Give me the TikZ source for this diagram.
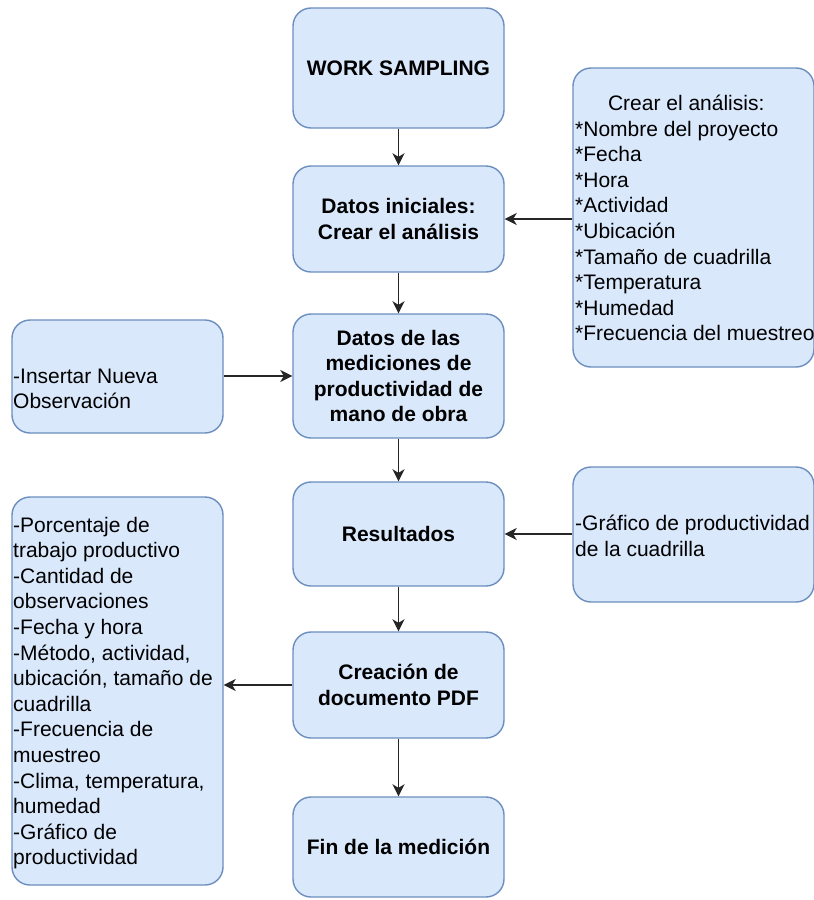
\documentclass[tikz,border=0pt]{standalone}
\usepackage{fontspec}
\setmainfont{Liberation Sans}
\usetikzlibrary{arrows.meta}
\definecolor{boxfill}{HTML}{DAE8FC}
\definecolor{boxline}{HTML}{6C8EBF}
\begin{document}
\begin{tikzpicture}[x=1pt,y=1pt,
  box/.style={draw=boxline, fill=boxfill, line width=1.4pt, rounded corners=18pt, inner sep=0pt},
  btxt/.style={font=\fontsize{21}{25.6}\selectfont\bfseries, align=center},
  txt/.style={font=\fontsize{21}{25.6}\selectfont, align=left, inner sep=0pt},
  arr/.style={-{Stealth[length=12pt,width=12pt,inset=3.5pt]}, line width=1.8pt, black!85}]
\useasboundingbox (0,0) rectangle (814,-900);
% centre column
\node[box, btxt, minimum width=211pt, minimum height=120pt] (ws) at (398.5,-68) {WORK SAMPLING};
\node[box, btxt, minimum width=211pt, minimum height=106pt] (di) at (398.5,-219) {Datos iniciales:\\Crear el análisis};
\node[box, btxt, minimum width=211pt, minimum height=124pt] (dm) at (398.5,-376) {Datos de las\\mediciones de\\productividad de\\mano de obra};
\node[box, btxt, minimum width=211pt, minimum height=104pt] (res) at (398.5,-534) {Resultados};
\node[box, btxt, minimum width=211pt, minimum height=106pt] (pdf) at (398.5,-685) {Creación de\\documento PDF};
\node[box, btxt, minimum width=211pt, minimum height=100pt] (fin) at (398.5,-847) {Fin de la medición};
% side boxes
\node[box, minimum width=241pt, minimum height=299pt] (r1) at (693.5,-217.5) {};
\node[txt, anchor=west] (r1t) at (575,-218) {\makebox[222pt][c]{Crear el análisis:}\\*Nombre del proyecto\\*Fecha\\*Hora\\*Actividad\\*Ubicación\\*Tamaño de cuadrilla\\*Temperatura\\*Humedad\\*Frecuencia del muestreo};
\node[box, minimum width=211pt, minimum height=113pt] (l1) at (117.5,-376.5) {};
\node[txt, anchor=west] (l1t) at (13,-389) {-Insertar Nueva\\Observación};
\node[box, minimum width=241pt, minimum height=135pt] (r2) at (693.5,-534.5) {};
\node[txt, anchor=west] (r2t) at (575,-536) {-Gráfico de productividad\\de la cuadrilla};
\node[box, minimum width=211pt, minimum height=388pt] (l2) at (117.5,-691) {};
\node[txt, anchor=west] (l2t) at (13,-693) {-Porcentaje de\\trabajo productivo\\-Cantidad de\\observaciones\\-Fecha y hora\\-Método, actividad,\\ubicación, tamaño de\\cuadrilla\\-Frecuencia de\\muestreo\\-Clima, temperatura,\\humedad\\-Gráfico de\\productividad};
% connectors
\draw[arr] (ws.south) -- (di.north);
\draw[arr] (di.east -| r1.west) -- (di.east);
\draw[arr] (di.south) -- (dm.north);
\draw[arr] (dm.west -| l1.east) -- (dm.west);
\draw[arr] (dm.south) -- (res.north);
\draw[arr] (res.east -| r2.west) -- (res.east);
\draw[arr] (res.south) -- (pdf.north);
\draw[arr] (pdf.west) -- (pdf.west -| l2.east);
\draw[arr] (pdf.south) -- (fin.north);
\end{tikzpicture}
\end{document}
